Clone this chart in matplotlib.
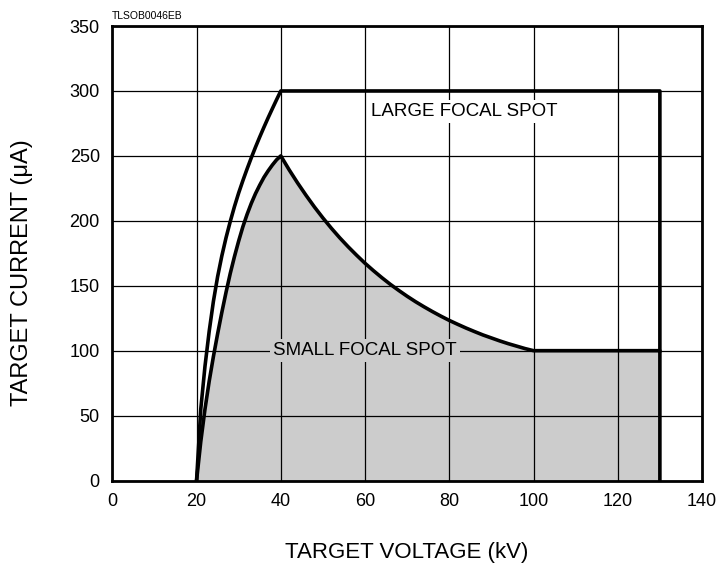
import numpy as np
import matplotlib
matplotlib.use("Agg")
import matplotlib.pyplot as plt

plt.rcParams['font.family'] = ['Liberation Sans', 'DejaVu Sans']

large_v = [20, 21, 22, 23, 24, 25, 26, 27, 28, 29, 30, 31, 32, 33, 34, 35,
           36, 37, 38, 39, 40, 130, 130]
large_i = [0, 55, 88, 115, 138, 157, 173, 187, 199.5, 211, 221.5, 231, 240,
           248.6, 256.8, 264.6, 272.1, 279.4, 286.4, 293.3, 300, 300, 100]

# small focal spot: rise, falling part, flat, drop
small_v = [20, 21, 22, 23, 24, 25, 26, 27, 28, 29, 30, 31, 32, 33, 34, 35,
           36, 37, 38, 39, 40,
           42, 44, 46, 48, 50, 52, 54, 56, 58, 60, 62, 64, 66, 68, 70,
           72, 74, 76, 78, 80, 82, 84, 86, 88, 90, 92, 94, 96, 98, 100,
           130, 130]
small_i = [0, 30, 55, 76.5, 95.5, 113, 129.5, 145, 159.5, 172.5, 184.5, 195.5,
           205, 213.5, 221, 227.5, 233.5, 238.5, 243, 247, 250,
           239.2, 229.1, 219.6, 210.6, 202.2, 194.3, 186.9, 180.0, 173.5,
           167.3, 161.6, 156.2, 151.1, 146.4, 141.9, 137.7, 133.8, 130.1,
           126.6, 123.3, 120.3, 117.4, 114.7, 112.1, 109.8, 107.5, 105.4,
           103.5, 101.6, 100,
           100, 0]

x_ticks = [0, 20, 40, 60, 80, 100, 120, 140]
y_ticks = [0, 50, 100, 150, 200, 250, 300, 350]

fig = plt.figure(figsize=(7.2, 5.66), dpi=100)
ax = fig.add_axes([0.156, 0.151, 0.819, 0.803])

ax.fill_between(small_v, small_i, 0, color='#cccccc', linewidth=0, zorder=1)
ax.grid(True, color='black', linewidth=0.9)
ax.plot(large_v, large_i, color='black', linewidth=2.6, zorder=3,
        solid_joinstyle='round')
ax.plot(small_v, small_i, color='black', linewidth=2.6, zorder=3,
        solid_joinstyle='round')

ax.set_xlim(0, 140)
ax.set_ylim(0, 350)
ax.set_xticks(x_ticks)
ax.set_yticks(y_ticks)
ax.tick_params(length=0, labelsize=13, pad=9)
for s in ax.spines.values():
    s.set_linewidth(2)

ax.text(83.5, 284, 'LARGE FOCAL SPOT', fontsize=13.5, ha='center', va='center',
        bbox=dict(facecolor='white', edgecolor='none', pad=2), zorder=4)
ax.text(60, 100, 'SMALL FOCAL SPOT', fontsize=13.5, ha='center', va='center',
        bbox=dict(facecolor='#cccccc', edgecolor='none', pad=2), zorder=4)
ax.text(0.0, 1.012, 'TLSOB0046EB', transform=ax.transAxes, fontsize=7.5,
        ha='left', va='bottom')

ax.set_xlabel('TARGET VOLTAGE (kV)', fontsize=16, labelpad=23)
ax.set_ylabel('TARGET CURRENT (\u03bcA)', fontsize=17)
ax.yaxis.set_label_coords(-0.134, 0.458)

fig.savefig('out.png', dpi=100)
